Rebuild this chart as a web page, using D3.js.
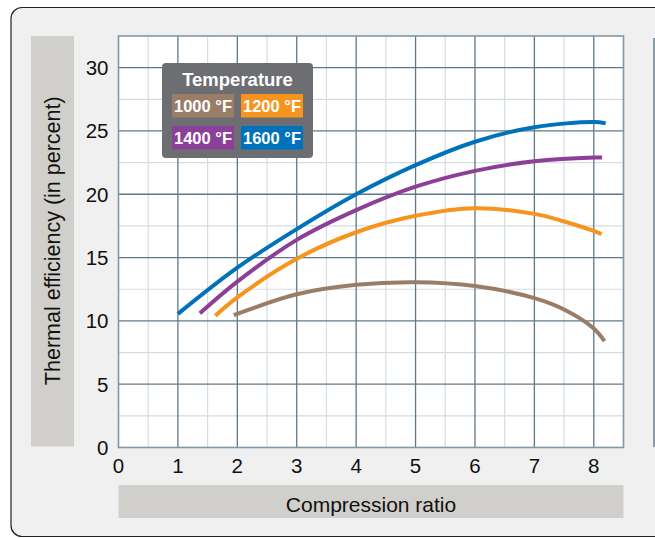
<!DOCTYPE html>
<html>
<head>
<meta charset="utf-8">
<script src="https://cdn.jsdelivr.net/npm/d3@7"></script>
<style>
  body { margin: 0; background: #fff; }
  svg { display: block; font-family: "Liberation Sans", Arial, sans-serif; }
</style>
</head>
<body>
<svg id="chart"></svg>
<script>
const width = 655;
const height = 538;

// legend entries, in legend order
const temperatures = ['1000 °F', '1200 °F', '1400 °F', '1600 °F'];
const lineColors = ['#9a7d67', '#f7941d', '#8c3f97', '#0071bb'];

// [compression ratio, thermal efficiency %]
const curve1000 = [[1.94, 10.45], [3, 12.1], [4, 12.85], [5, 13.05], [6, 12.75], [7, 11.8], [7.5, 10.9], [8, 9.4], [8.18, 8.4]];
const curve1200 = [[1.63, 10.4], [2, 11.85], [3, 14.9], [4, 17.0], [5, 18.3], [6, 18.9], [7, 18.45], [7.5, 17.85], [8, 17.1], [8.13, 16.85]];
const curve1400 = [[1.37, 10.6], [2, 13.1], [3, 16.4], [4, 18.75], [5, 20.6], [6, 21.85], [7, 22.6], [8, 22.9], [8.14, 22.9]];
const curve1600 = [[1.0, 10.55], [2, 14.2], [3, 17.25], [4, 20.0], [5, 22.3], [6, 24.15], [7, 25.3], [8, 25.7], [8.2, 25.6]];
const curves = [curve1000, curve1200, curve1400, curve1600];

const xTicks = [0, 1, 2, 3, 4, 5, 6, 7, 8];
const yTicks = [0, 5, 10, 15, 20, 25, 30];

const plot = { left: 118.5, right: 623.5, top: 36, bottom: 447.5 };

const svg = d3.select('#chart')
  .attr('width', width)
  .attr('height', height);

// panel background
svg.append('rect')
  .attr('x', 11).attr('y', 7.5)
  .attr('width', 700).attr('height', 529)
  .attr('rx', 11)
  .attr('fill', '#f0f0f0')
  .attr('stroke', '#231f20')
  .attr('stroke-width', 1.2);

// edge of the neighbouring panel
svg.append('line')
  .attr('x1', 654).attr('x2', 654)
  .attr('y1', 38).attr('y2', 447)
  .attr('stroke', '#8a9ca8')
  .attr('stroke-width', 2);

const x = d3.scaleLinear().domain([0, 8.5]).range([plot.left, plot.right]);
const y = d3.scaleLinear().domain([0, 32.5]).range([plot.bottom, plot.top]);

// axis title bands
svg.append('rect')
  .attr('x', 31).attr('y', plot.top)
  .attr('width', 43).attr('height', plot.bottom - plot.top - 1)
  .attr('fill', '#d1cfcb');

svg.append('text')
  .attr('transform', `translate(60,${(plot.top + plot.bottom) / 2 - 1}) rotate(-90)`)
  .attr('text-anchor', 'middle')
  .attr('font-size', 21.5)
  .attr('fill', '#111')
  .text('Thermal efficiency (in percent)');

svg.append('rect')
  .attr('x', plot.left).attr('y', 485)
  .attr('width', plot.right - plot.left).attr('height', 33)
  .attr('fill', '#d1cfcb');

svg.append('text')
  .attr('x', (plot.left + plot.right) / 2)
  .attr('y', 511.5)
  .attr('text-anchor', 'middle')
  .attr('font-size', 21)
  .attr('fill', '#111')
  .text('Compression ratio');

// plot area
svg.append('rect')
  .attr('x', plot.left).attr('y', plot.top)
  .attr('width', plot.right - plot.left).attr('height', plot.bottom - plot.top)
  .attr('fill', '#fff');

const grid = svg.append('g');

grid.selectAll('.vminor')
  .data(d3.range(0.5, 8.5, 1))
  .enter().append('line')
  .attr('x1', d => x(d)).attr('x2', d => x(d))
  .attr('y1', plot.top).attr('y2', plot.bottom)
  .attr('stroke', '#d3dde3').attr('stroke-width', 1.2);

grid.selectAll('.hminor')
  .data(d3.range(2.5, 32.5, 5))
  .enter().append('line')
  .attr('x1', plot.left).attr('x2', plot.right)
  .attr('y1', d => y(d)).attr('y2', d => y(d))
  .attr('stroke', '#d3dde3').attr('stroke-width', 1.2);

grid.selectAll('.vmajor')
  .data(xTicks.slice(1))
  .enter().append('line')
  .attr('x1', d => x(d)).attr('x2', d => x(d))
  .attr('y1', plot.top).attr('y2', plot.bottom)
  .attr('stroke', '#5f7888').attr('stroke-width', 1.3);

grid.selectAll('.hmajor')
  .data(yTicks.slice(1))
  .enter().append('line')
  .attr('x1', plot.left).attr('x2', plot.right)
  .attr('y1', d => y(d)).attr('y2', d => y(d))
  .attr('stroke', '#5f7888').attr('stroke-width', 1.3);

svg.append('rect')
  .attr('x', plot.left).attr('y', plot.top)
  .attr('width', plot.right - plot.left).attr('height', plot.bottom - plot.top)
  .attr('fill', 'none')
  .attr('stroke', '#7f97a6')
  .attr('stroke-width', 1.6);

// tick labels
svg.append('g').selectAll('text')
  .data(xTicks)
  .enter().append('text')
  .attr('x', d => x(d))
  .attr('y', 473)
  .attr('text-anchor', 'middle')
  .attr('font-size', 20.5)
  .attr('fill', '#111')
  .text(d => d);

svg.append('g').selectAll('text')
  .data(yTicks)
  .enter().append('text')
  .attr('x', 108.5)
  .attr('y', d => y(d))
  .attr('dy', '0.36em')
  .attr('text-anchor', 'end')
  .attr('font-size', 20.5)
  .attr('fill', '#111')
  .text(d => d);

// curves
const line = d3.line()
  .x(d => x(d[0]))
  .y(d => y(d[1]))
  .curve(d3.curveCatmullRom.alpha(0.5));

svg.append('g').selectAll('path')
  .data(curves)
  .enter().append('path')
  .attr('d', line)
  .attr('fill', 'none')
  .attr('stroke', (d, i) => lineColors[i])
  .attr('stroke-width', 4);

// legend
const legend = svg.append('g').attr('transform', 'translate(162,63)');

legend.append('rect')
  .attr('width', 151).attr('height', 95)
  .attr('rx', 4)
  .attr('fill', '#6d6e71');

legend.append('text')
  .attr('x', 75.5).attr('y', 22.5)
  .attr('text-anchor', 'middle')
  .attr('font-size', 18.5)
  .attr('font-weight', 'bold')
  .attr('fill', '#fff')
  .text('Temperature');

const item = legend.selectAll('.item')
  .data(temperatures)
  .enter().append('g')
  .attr('transform', (d, i) => `translate(${10 + (i % 2) * 69},${31 + Math.floor(i / 2) * 32})`);

item.append('rect')
  .attr('width', 62).attr('height', 23.5)
  .attr('fill', (d, i) => lineColors[i]);

item.append('text')
  .attr('x', 31).attr('y', 18)
  .attr('text-anchor', 'middle')
  .attr('font-size', 16.5)
  .attr('font-weight', 'bold')
  .attr('fill', '#fff')
  .text(d => d);
</script>
</body>
</html>
